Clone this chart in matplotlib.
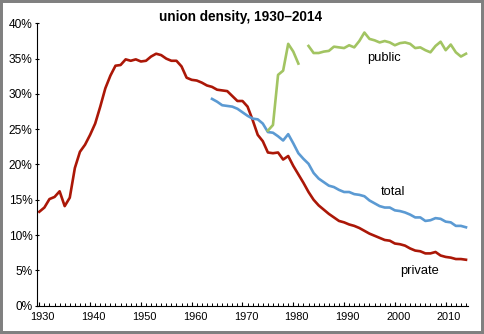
import numpy as np
import matplotlib
matplotlib.use('Agg')
import matplotlib.pyplot as plt
import matplotlib.transforms as mtransforms
from matplotlib.patches import Rectangle
from matplotlib.ticker import MultipleLocator, FuncFormatter

plt.rcParams['font.family'] = ['Liberation Sans', 'DejaVu Sans']

# Union membership as a share of employment (%)
private_years = np.arange(1930, 2015)
private = [13.3, 13.9, 15.1, 15.4, 16.2, 14.1, 15.3, 19.5, 21.8, 22.8,
           24.2, 25.8, 28.2, 30.8, 32.6, 34.0, 34.1, 34.9, 34.7, 34.9,
           34.6, 34.7, 35.3, 35.7, 35.5, 35.0, 34.7, 34.7, 33.9, 32.3,
           32.0, 31.9, 31.6, 31.2, 31.0, 30.6, 30.5, 30.4, 29.7, 29.0,
           29.0, 28.2, 26.3, 24.2, 23.3, 21.7, 21.6, 21.7, 20.7, 21.2,
           19.8, 18.6, 17.4, 16.1, 15.0, 14.2, 13.6, 13.0, 12.5, 12.0,
           11.8, 11.5, 11.3, 11.0, 10.6, 10.2, 9.9, 9.6, 9.3, 9.2,
           8.8, 8.7, 8.5, 8.1, 7.8, 7.7, 7.4, 7.4, 7.6, 7.1,
           6.9, 6.8, 6.6, 6.6, 6.5]

total_years = np.arange(1964, 2015)
total = [29.3, 28.9, 28.4, 28.3, 28.2, 27.9, 27.4, 26.9, 26.5, 26.4,
         25.8, 24.6, 24.5, 24.0, 23.4, 24.3, 23.0, 21.6, 20.8, 20.1,
         18.8, 18.0, 17.5, 17.0, 16.8, 16.4, 16.1, 16.1, 15.8, 15.7,
         15.5, 14.9, 14.5, 14.1, 13.9, 13.9, 13.5, 13.4, 13.2, 12.9,
         12.5, 12.5, 12.0, 12.1, 12.4, 12.3, 11.9, 11.8, 11.3, 11.3,
         11.1]

# public series has no value for 1982
public_years = np.arange(1975, 2015)
public = [24.8, 25.6, 32.7, 33.3, 37.1, 36.0, 34.3, np.nan, 36.8, 35.8,
          35.8, 36.0, 36.1, 36.7, 36.6, 36.5, 36.9, 36.6, 37.5, 38.7,
          37.8, 37.6, 37.3, 37.5, 37.3, 36.9, 37.2, 37.3, 37.1, 36.5,
          36.6, 36.2, 35.9, 36.8, 37.4, 36.2, 37.0, 35.9, 35.3, 35.7]

red = '#ab1707'
blue = '#5b9ad3'
green = '#a2c462'

fig = plt.figure(figsize=(4.84, 3.34), dpi=100)
ax = fig.add_axes([0.077, 0.085, 0.890, 0.845])

lw = 1.9
ax.plot(private_years, private, color=red, lw=lw, solid_joinstyle='round')
ax.plot(total_years, total, color=blue, lw=lw, solid_joinstyle='round')
ax.plot(public_years, public, color=green, lw=lw, solid_joinstyle='round')

lPars = {'fontsize': 9.3, 'ha': 'center', 'va': 'center'}
ax.text(1997.9, 35.1, 'public', **lPars)
ax.text(1999.7, 16.1, 'total', **lPars)
ax.text(2004.9, 4.95, 'private', **lPars)

ax.set_xlim(1929.6, 2014.4)
ax.set_ylim(0, 40)
ax.xaxis.set_major_locator(MultipleLocator(10))
ax.xaxis.set_minor_locator(MultipleLocator(1))
ax.yaxis.set_major_locator(MultipleLocator(5))
ax.yaxis.set_major_formatter(FuncFormatter(lambda v, p: '{:.0f}%'.format(v)))

for s in ['top', 'right']:
    ax.spines[s].set_visible(False)
for s in ['left', 'bottom']:
    ax.spines[s].set_linewidth(0.8)

ax.tick_params(axis='y', direction='inout', length=3, width=0.8,
               pad=2, labelsize=8.6)
ax.tick_params(axis='x', which='major', direction='in', length=3,
               width=0.8, pad=4.5, labelsize=7.9)
ax.tick_params(axis='x', which='minor', direction='in', length=2.2,
               width=0.7)

# year labels sit a little right of their ticks
shift = mtransforms.ScaledTranslation(3.5 / 100, 0, fig.dpi_scale_trans)
for lab in ax.get_xticklabels():
    lab.set_transform(lab.get_transform() + shift)

fig.text(0.496, 0.948, 'union density, 1930\u20132014', fontsize=9.8,
         fontweight='bold', ha='center', va='center')

# grey frame round the whole figure
fig.patches.append(Rectangle((0, 0), 1, 1, transform=fig.transFigure,
                             fill=False, edgecolor='#808080', lw=4.3))

fig.savefig('out.png', dpi=100)
